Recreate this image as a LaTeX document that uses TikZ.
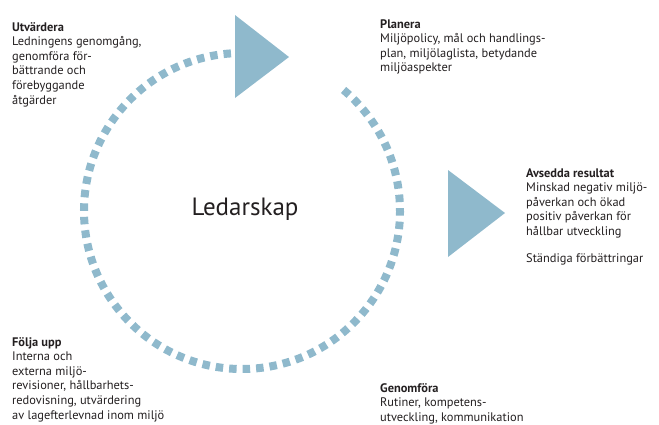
\documentclass[tikz,border=0pt]{standalone}
\usepackage{fontspec}
\setmainfont{PT Sans}
\begin{document}
\begin{tikzpicture}[x=1pt,y=-1pt,
  txt/.style={anchor=base west,inner sep=0pt,text=ink},
  tri/.style={fill=cyc,draw=none},
  cycle/.style={draw=cyc,line width=8pt,dash pattern=on 7.5pt off 6pt}]
\definecolor{cyc}{RGB}{143,185,204}
\definecolor{ink}{RGB}{35,31,32}
\newcommand{\blk}[2]{\parbox[t]{#1}{\fontsize{12.4}{14.6}\selectfont\raggedright #2}}
\useasboundingbox (0,0) rectangle (659,424);
% cycle
\coordinate (c) at (242,211);
\draw[cycle] ([shift={(-94:158)}]c) arc[start angle=-94,end angle=-410,radius=158];
% triangles
\fill[tri] (235,15) -- (289,57) -- (235,98) -- cycle;
\fill[tri] (448,170) -- (505,213) -- (448,257) -- cycle;
% center
\node[anchor=base,inner sep=0pt,text=ink,font=\fontsize{25}{30}\selectfont] (lead) at (245,215) {Ledarskap};
% texts
\node[txt] (utv) at (12,31) {\blk{200pt}{\textbf{Utvärdera}\\Ledningens genomgång,\\genomföra för-\\bättrande och\\förebyggande\\åtgärder}};
\node[txt] (pla) at (380,28) {\blk{250pt}{\textbf{Planera}\\Miljöpolicy, mål och handlings-\\plan, miljölaglista, betydande\\miljöaspekter}};
\node[txt] (res) at (526,177) {\blk{200pt}{\textbf{Avsedda resultat}\\Minskad negativ miljö-\\påverkan och ökad\\positiv påverkan för\\hållbar utveckling\\[12pt]Ständiga förbättringar}};
\node[txt] (fol) at (12,346) {\blk{250pt}{\textbf{Följa upp}\\Interna och\\externa miljö-\\revisioner, hållbarhets-\\redovisning, utvärdering\\av lagefterlevnad inom miljö}};
\node[txt] (gen) at (380,392) {\blk{250pt}{\textbf{Genomföra}\\Rutiner, kompetens-\\utveckling, kommunikation}};
\end{tikzpicture}
\end{document}
